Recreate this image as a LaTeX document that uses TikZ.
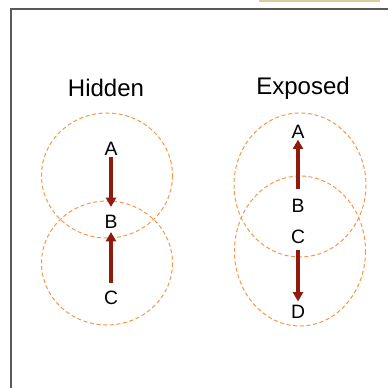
\documentclass[tikz,border=0pt]{standalone}
\usepackage{fontspec}
\setmainfont{Liberation Sans}
\usetikzlibrary{arrows.meta}

\definecolor{rangeorange}{HTML}{F79646}
\definecolor{arrowred}{HTML}{8E1B0C}
\definecolor{framegray}{HTML}{5A5A5A}
\definecolor{bartan}{HTML}{D4CF9E}

\begin{document}
\begin{tikzpicture}[
    x=0.75pt, y=-0.75pt,
    coverage/.style={draw=rangeorange, dash pattern=on 3pt off 2pt, line width=0.75pt},
    title/.style={font=\fontsize{18}{20}\selectfont, inner sep=0pt},
    station/.style={font=\fontsize{14.5}{16}\selectfont, inner sep=0pt, text height=10.4pt, text depth=0pt},
    arrow/.style={-{Triangle[width=7.5pt,length=7pt]}, draw=arrowred, fill=arrowred, line width=2.3pt},
]
\useasboundingbox (0,0) rectangle (388,388);

% frame
\fill[bartan] (259,0) rectangle (380,2.5);
\draw[framegray, line width=1.5pt] (388,9.5) -- (10.5,9.5) -- (10.5,388);

% hidden terminal
\node[title] (hidden) at (106,88) {Hidden};
\draw[coverage] (107,175.5) ellipse (65.5 and 62.5);
\draw[coverage] (107,263) ellipse (65.5 and 62);
\node[station] (hA) at (111,148.5) {A};
\node[station] (hB) at (111,221.5) {B};
\node[station] (hC) at (111,297.5) {C};
\draw[arrow, shorten <=1.3pt, shorten >=5.5pt] (hA) -- (hB);
\draw[arrow, shorten <=5.5pt, shorten >=2.5pt] (hC) -- (hB);

% exposed terminal
\node[title] (exposed) at (303,88) {Exposed};
\draw[coverage] (300,185) ellipse (66 and 72);
\draw[coverage] (300,251) ellipse (65.5 and 75);
\node[station] (eA) at (298,132) {A};
\node[station] (eB) at (298,206) {B};
\node[station] (eC) at (298,237) {C};
\node[station] (eD) at (298,312) {D};
\draw[arrow, shorten <=7.5pt, shorten >=0.3pt] (eB) -- (eA);
\draw[arrow, shorten <=4.5pt, shorten >=2.5pt] (eC) -- (eD);
\end{tikzpicture}
\end{document}
